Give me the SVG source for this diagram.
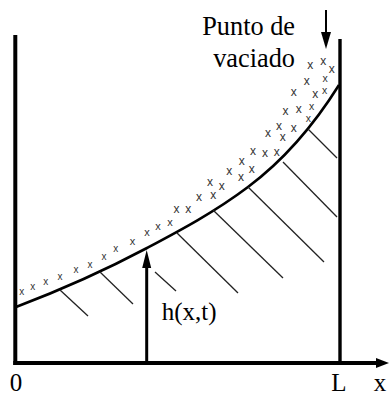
<svg xmlns="http://www.w3.org/2000/svg" width="390" height="397" viewBox="0 0 390 397">
<defs>
<style>
.wall{stroke:#000;stroke-width:4;fill:none}
.curve{stroke:#000;stroke-width:2.6;fill:none}
.hatch{stroke:#222;stroke-width:1.3;fill:none}
.lbl{font-family:'Liberation Serif','Times New Roman',serif;font-size:25px;fill:#000}
.big{font-size:26.3px}
.xs{font-family:'Liberation Sans',Arial,sans-serif;font-size:10px;fill:#333;text-anchor:middle}
.xm{font-family:'Liberation Sans',Arial,sans-serif;font-size:11px;fill:#333;text-anchor:middle}
.xl{font-family:'Liberation Sans',Arial,sans-serif;font-size:12px;fill:#333;text-anchor:middle}
.xt{font-family:'Liberation Sans',Arial,sans-serif;font-size:10.5px;fill:#333;text-anchor:middle}
</style>
</defs>
<rect width="390" height="397" fill="#fff"/>
<g id="axes">
<line class="wall" x1="15.3" y1="35" x2="15.3" y2="365"/>
<line class="wall" x1="340" y1="39" x2="340" y2="363" style="stroke-width:3.4"/>
<line class="wall" x1="13.3" y1="363" x2="378" y2="363"/>
<polygon points="376,358 389,363 376,368" fill="#000"/>
</g>
<g id="surface">
<path class="curve" d="M16,307 C59.7,290.4 103.3,271.2 147,248 C180.7,230.1 214.3,212.3 248,187 C278.3,164.3 308.7,133.5 339,85"/>
</g>
<g id="hatching">
<line class="hatch" x1="60" y1="290" x2="88" y2="316"/>
<line class="hatch" x1="100" y1="272" x2="133" y2="304"/>
<line class="hatch" x1="155" y1="272" x2="176" y2="291"/>
<line class="hatch" x1="177" y1="233" x2="238" y2="293"/>
<line class="hatch" x1="213" y1="210" x2="283" y2="278"/>
<line class="hatch" x1="248" y1="187" x2="324" y2="262"/>
<line class="hatch" x1="283" y1="162" x2="337" y2="217"/>
<line class="hatch" x1="308" y1="129" x2="337" y2="158"/>
</g>
<g id="particles">
<text class="xs" x="21.7" y="294.6">x</text>
<text class="xs" x="32.7" y="289.6">x</text>
<text class="xs" x="45.7" y="284.6">x</text>
<text class="xs" x="60" y="279.6">x</text>
<text class="xs" x="76" y="272.6">x</text>
<text class="xs" x="90" y="267.6">x</text>
<text class="xs" x="104" y="259.6">x</text>
<text class="xs" x="115.7" y="251.6">x</text>
<text class="xm" x="132.5" y="244.6">x</text>
<text class="xm" x="147" y="235.9">x</text>
<text class="xm" x="158" y="229.6">x</text>
<text class="xm" x="170" y="225.6">x</text>
<text class="xl" x="176.5" y="213.1">x</text>
<text class="xl" x="188.3" y="213.1">x</text>
<text class="xl" x="199" y="201.4">x</text>
<text class="xl" x="213.3" y="199.1">x</text>
<text class="xl" x="210" y="186.4">x</text>
<text class="xl" x="221.7" y="189.8">x</text>
<text class="xl" x="229.3" y="174.8">x</text>
<text class="xl" x="241" y="181.1">x</text>
<text class="xl" x="241.7" y="164.8">x</text>
<text class="xl" x="251.7" y="172.6">x</text>
<text class="xl" x="253" y="154.8">x</text>
<text class="xl" x="265" y="156.6">x</text>
<text class="xl" x="276.7" y="156.4">x</text>
<text class="xl" x="268" y="137.1">x</text>
<text class="xl" x="279" y="130.1">x</text>
<text class="xl" x="282.7" y="141.1">x</text>
<text class="xl" x="293.7" y="131.8">x</text>
<text class="xl" x="285.5" y="114.8">x</text>
<text class="xl" x="298.8" y="113.1">x</text>
<text class="xt" x="311.7" y="109.8">x</text>
<text class="xt" x="308.3" y="122">x</text>
<text class="xl" x="293.7" y="95.6">x</text>
<text class="xl" x="315.3" y="97.8">x</text>
<text class="xt" x="324.5" y="94">x</text>
<text class="xl" x="306.7" y="85.1">x</text>
<text class="xt" x="325" y="81.5">x</text>
<text class="xl" x="310.3" y="69.4">x</text>
<text class="xl" x="323.3" y="64.8">x</text>
<text class="xl" x="331.7" y="73.1">x</text>
</g>
<g id="pour-point">
<line x1="326" y1="10" x2="326" y2="34" stroke="#000" stroke-width="2"/>
<polygon points="321,32 331,32 326,49" fill="#000"/>
<text class="lbl big" x="295" y="35" text-anchor="end">Punto de</text>
<text class="lbl big" x="295" y="66.7" text-anchor="end">vaciado</text>
</g>
<g id="height">
<line x1="146.7" y1="363" x2="146.7" y2="266" stroke="#000" stroke-width="3"/>
<polygon points="142.2,268 151.2,268 146.7,250" fill="#000"/>
<text class="lbl" x="161.7" y="320">h(x,t)</text>
</g>
<g id="labels">
<text class="lbl" x="16" y="391" text-anchor="middle">0</text>
<text class="lbl" x="339" y="391" text-anchor="middle">L</text>
<text class="lbl" x="380" y="391" text-anchor="middle">x</text>
</g>
</svg>
